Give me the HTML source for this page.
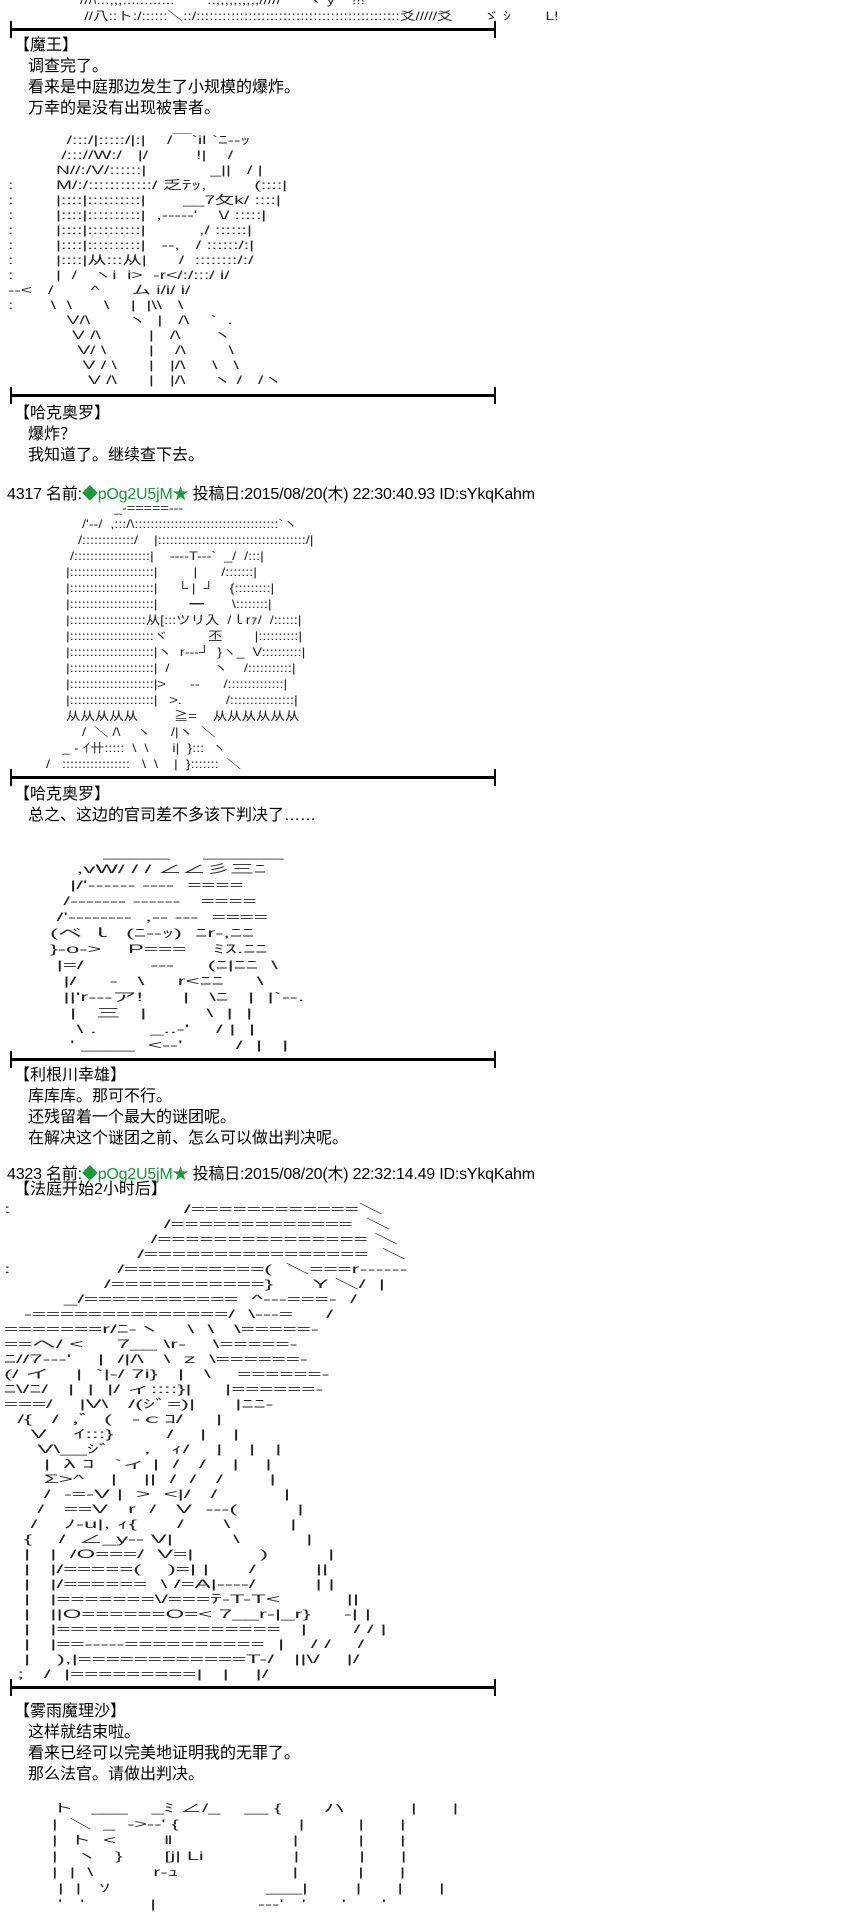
<!DOCTYPE html>
<html><head><meta charset="utf-8"><style>
body{margin:0;background:#fff;width:841px;height:1898px;position:relative;overflow:hidden;font-family:"Liberation Sans","Noto Sans CJK SC",sans-serif;color:#000}
.t{position:absolute;font-size:16px;line-height:20px;white-space:nowrap}
.h{position:absolute;font-size:16px;white-space:nowrap;letter-spacing:-0.2px}
.g{color:#1a9a3a}
.sep{position:absolute;left:10px;width:486px;height:3px;background:#000}
.sep:before,.sep:after{content:"";position:absolute;top:-7px;width:2px;height:17px;background:#000}
.sep:before{left:0}.sep:after{right:0}
pre{position:absolute;margin:0;font-family:"Liberation Sans","Noto Sans CJK JP",sans-serif;font-size:12px;line-height:16px;color:#222;transform-origin:0 0}
</style></head><body>
<pre style="left:80px;top:-8px;transform:scaleX(1.3)">//ﾊ:::;;;::::::::::::'''''''''''::;;;;;;;;;;/////      ヾ y    !!!
 //八::ト:/::::::＼::/:::::::::::::::::::::::::::::::::::::::::::::::爻/////爻       ゞ ｼ        L!</pre>
<div class="sep" style="top:28px"></div>
<div class="t" style="left:14px;top:36px">【魔王】</div>
<div class="t" style="left:28px;top:57px">调查完了。</div>
<div class="t" style="left:28px;top:78px">看来是中庭那边发生了小规模的爆炸。</div>
<div class="t" style="left:28px;top:99px">万幸的是没有出现被害者。</div>
<pre style="left:8px;top:133px;line-height:15px;transform:scaleX(1.6)">           /:::/|:::::/|:|    /￣`il `ﾆ--ｯ
          /::://W:/   |/         !|    /
         N//:/V/::::::|            _||   / |
:        M/:/::::::::::::/ 乏ﾃｯ,         (::::|
:        |::::|::::::::::|       __7攵k/ ::::|
:        |::::|::::::::::|  ,-----'    \/ :::::|
:        |::::|::::::::::|          ,/ ::::::|
:        |::::|::::::::::|   --,   / ::::::/:|
:        |::::|从:::从|      /  ::::::::/:/
:        |  /   ヽi  i&gt;  -r&lt;/:/:::/ i/
--&lt;   /       ^      ム i/i/ i/
:       \  \      \    |  |\\   \
           V/\       ヽ  |   /\    `  .
            V /\         |   /\      ヽ
             V/ \        |    /\        \
              V / \      |   |/\     \   \
               V /\      |   |/\     ヽ /   /ヽ</pre>
<div class="sep" style="top:394px"></div>
<div class="t" style="left:14px;top:404px">【哈克奥罗】</div>
<div class="t" style="left:28px;top:425px">爆炸？</div>
<div class="t" style="left:28px;top:446px">我知道了。继续查下去。</div>
<div class="h" style="left:7px;top:480px">4317 名前:<span class="g">◆pOg2U5jM</span><span class="g">★</span> 投稿日:2015/08/20(木) 22:30:40.93 ID:sYkqKahm</div>
<pre style="left:30px;top:500px;transform:scaleX(1.2)">                     _-=====---
             /'--/  ,:::/\::::::::::::::::::::::::::::::::::::`ヽ
            /:::::::::::::/    |:::::::::::::::::::::::::::::::::::::/|
          /:::::::::::::::::::|    ----T---`  _/  /:::|
         |:::::::::::::::::::::|         |      /:::::::|
         |:::::::::::::::::::::|     └ |  ┘    {:::::::::|
         |:::::::::::::::::::::|        ━       \::::::::|
         |:::::::::::::::::::从[:::ツリ入  /ｌrｧ/  /::::::|
         |:::::::::::::::::::::ヾ          丕        |::::::::::|
         |:::::::::::::::::::::|ヽ  r---┘  }ヽ_  V::::::::::|
         |:::::::::::::::::::::|  /           ヽ    /:::::::::::|
         |:::::::::::::::::::::|&gt;      ‐‐      /::::::::::::::|
         |:::::::::::::::::::::|   &gt;.           /::::::::::::::::|
         从从从从从         ≧=    从从从从从从
             /  ＼ /\    ヽ     /|ヽ  ＼
        _ - ｲ卄:::::  \  \      i|  }:::  ヽ
    /   :::::::::::::::::   \  \    |  }:::::::  ＼</pre>
<div class="sep" style="top:776px"></div>
<div class="t" style="left:14px;top:785px">【哈克奥罗】</div>
<div class="t" style="left:28px;top:806px">总之、这边的官司差不多该下判决了……</div>
<pre style="left:30px;top:845px;transform:scaleX(2.0)">           _____     ______
       ,vW/ / / ∠∠彡三ﾆ
      |/'------ ----  ====
     /------- ------   ====
    /'--------  ,-- ---  ====
   (ベ ｌ  (ﾆ--ｯ)  ﾆr-,ﾆﾆ
   }-o-&gt;    P===    ﾐｽ.ﾆﾆ
    |=/          ---     (ﾆ|ﾆﾆ  \
     |/     -   \     r&lt;ﾆﾆ     \
     ||'r---ア!      |   \ﾆ   |  |`--.
      |   三   |         \  |  |
       \ .        _..-'    / |  |
      ' ____  &lt;--'        /  |   |</pre>
<div class="sep" style="top:1058px"></div>
<div class="t" style="left:14px;top:1066px">【利根川幸雄】</div>
<div class="t" style="left:28px;top:1087px">库库库。那可不行。</div>
<div class="t" style="left:28px;top:1108px">还残留着一个最大的谜团呢。</div>
<div class="t" style="left:28px;top:1129px">在解决这个谜团之前、怎么可以做出判决呢。</div>
<div class="h" style="left:7px;top:1160px">4323 名前:<span class="g">◆pOg2U5jM</span><span class="g">★</span> 投稿日:2015/08/20(木) 22:32:14.49 ID:sYkqKahm</div>
<div class="t" style="left:14px;top:1180px">【法庭开始2小时后】</div>
<pre style="left:4px;top:1202px;line-height:15px;transform:scaleX(2.0)">:                          /============＼
                        /=============  ＼
                      /=============== ＼
                    /================  ＼
:                /==========(  ＼===r------
               /===========}      Y ＼/  |
         _/===========  ^---===-  /
   -==============/  \---=     /
=======r/ﾆ-ヽ    \  \   \=====-
==へ/ &lt;     7__ \r-    \=====-
ﾆ//7---'    |  /|/\   \  z  \======-
(/ イ    |  `|-/ 7i}   |   \    ======-
ﾆ\/ﾆ/   |  |  |/ ィ::::}|     |======-
===/    |V\   /(ｼﾞ=)|      |ﾆﾆ-
  /{   /  ,ﾞ  (   -ｃｺ/     |
    V    ｲ:::}        /    |    |
     V\__ｼﾞ     ,   ｨ/    |    |   |
      |  λ ｺ   `ィ |  /   /    |    |
      Σ&gt;^    |    ||  /  /   /       |
      /  -=-V |  &gt;  &lt;|/   /          |
     /   ==V   r  /   V  ---(         |
    /    ﾉ-u|, ｨ{      /      \         |
   {    /  ∠_y-- V|         \          |
   |   |  /O===/  V=|          )         |
   |   |/=====(    )=| |      /         ||
   |   |/======  \ /=A|----/         | |
   |   |=======\/===ﾃ-T-T&lt;          ||
   |   ||O======O=&lt; 7__r-|_r}     -| |
   |   |================   |       / / |
   |   |==-----==========  |    / /    /
   |    ),|============T-/   ||\/    |/
  ;   /  |=========|   |    |/</pre>
<div class="sep" style="top:1686px"></div>
<div class="t" style="left:14px;top:1702px">【雾雨魔理沙】</div>
<div class="t" style="left:28px;top:1723px">这样就结束啦。</div>
<div class="t" style="left:28px;top:1744px">看来已经可以完美地证明我的无罪了。</div>
<div class="t" style="left:28px;top:1765px">那么法官。请做出判决。</div>
<pre style="left:40px;top:1800px;transform:scaleX(1.8)">  ト   ___    _ﾐ ∠/_    __ {       ハ           |      |
  |  ＼  _  -&gt;--' {                    |         |      |
  |  ト  &lt;        ‖                    |          |      |
  |   ヽ   }       [j| Li               |          |      |
  |  |  \          r-ｭ                   |          |      |
   |  |   ｿ                          ___|        |      |      |
   '   '           |                 ---'   '      '      '</pre>
</body></html>
